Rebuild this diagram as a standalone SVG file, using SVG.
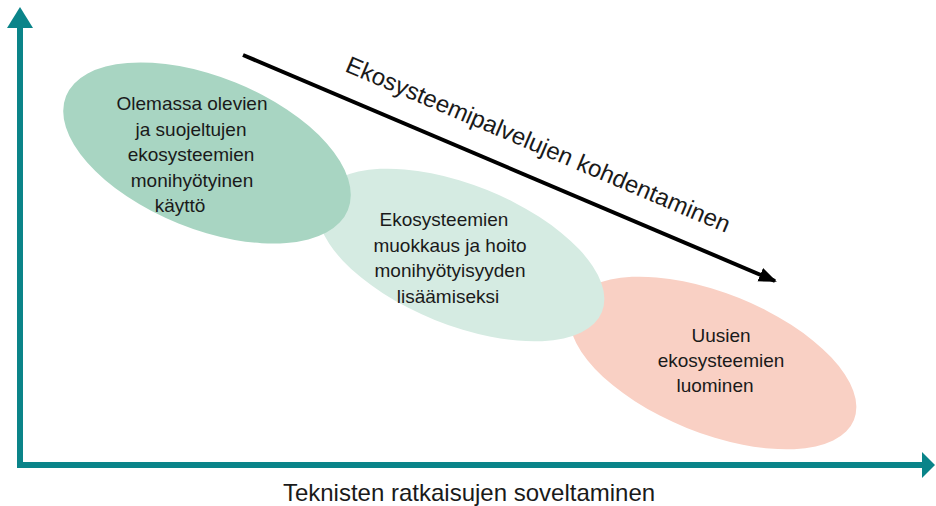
<svg xmlns="http://www.w3.org/2000/svg" width="936" height="506" viewBox="0 0 936 506">
<style>
text{font-family:"Liberation Sans",Arial,sans-serif;fill:#1a1a1a}
.n{font-size:19px;text-anchor:middle}
.axis{stroke:#0a8489;stroke-width:6;fill:none}
</style>
<defs>
<marker id="ah" markerWidth="5" markerHeight="4" refX="4" refY="1.8" orient="auto" markerUnits="strokeWidth"><path d="M0,0 L4.5,1.8 L0,3.6 Z" fill="#000"/></marker>
</defs>
<rect width="936" height="506" fill="#fff"/>
<g id="n3">
<ellipse cx="713" cy="363" rx="152" ry="70" transform="rotate(22 713 363)" fill="#f9d0c4"/>
<text class="n" x="721" y="342">Uusien</text>
<text class="n" x="721" y="367">ekosysteemien</text>
<text class="n" x="715" y="392">luominen</text>
</g>
<g id="n2">
<ellipse cx="461" cy="255" rx="152" ry="70" transform="rotate(22 461 255)" fill="#d5ebe2"/>
<text class="n" x="444" y="226">Ekosysteemien</text>
<text class="n" x="450" y="252">muokkaus ja hoito</text>
<text class="n" x="450" y="277">monihyötyisyyden</text>
<text class="n" x="448" y="303">lisäämiseksi</text>
</g>
<g id="n1">
<ellipse cx="207" cy="153" rx="152" ry="76" transform="rotate(22 207 153)" fill="#a8d5c2"/>
<text class="n" x="192" y="110">Olemassa olevien</text>
<text class="n" x="191" y="136">ja suojeltujen</text>
<text class="n" x="191" y="161">ekosysteemien</text>
<text class="n" x="192" y="187">monihyötyinen</text>
<text class="n" x="180" y="212">käyttö</text>
</g>
<g id="connectors">
<line class="axis" x1="20" y1="468" x2="20" y2="26"/>
<path d="M20,7 L33,28 L7,28 Z" fill="#0a8489"/>
<line class="axis" x1="17" y1="465" x2="924" y2="465"/>
<path d="M935,465 L922,452 L922,478 Z" fill="#0a8489"/>
<line x1="243" y1="55" x2="775" y2="281" stroke="#000" stroke-width="4" marker-end="url(#ah)"/>
</g>
<g id="labels">
<text x="535" y="152" font-size="24" text-anchor="middle" transform="rotate(23 535 152)">Ekosysteemipalvelujen kohdentaminen</text>
<text x="469" y="501" font-size="24" text-anchor="middle">Teknisten ratkaisujen soveltaminen</text>
</g>
</svg>
